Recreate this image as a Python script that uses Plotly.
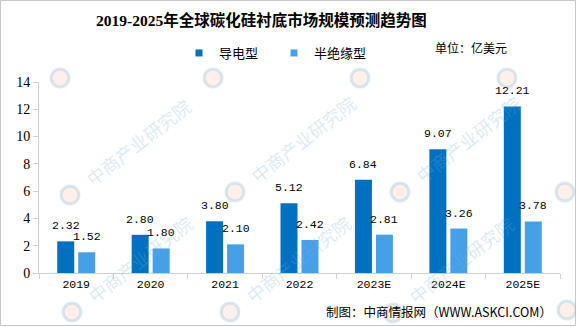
import plotly.graph_objects as go

# ---- data -------------------------------------------------------------
years = ["2019", "2020", "2021", "2022", "2023E", "2024E", "2025E"]
conductive = [2.32, 2.80, 3.80, 5.12, 6.84, 9.07, 12.21]      # 导电型
semi_insulating = [1.52, 1.80, 2.10, 2.42, 2.81, 3.26, 3.78]  # 半绝缘型
series_names = ["导电型", "半绝缘型"]
y_ticks = [0, 2, 4, 6, 8, 10, 12, 14]

# ---- styling ----------------------------------------------------------
W, H = 576, 327
M_L, M_R, M_T, M_B = 39, 16, 82, 54
PW, PH = W - M_L - M_R, H - M_T - M_B
DARK = "#0070C0"
LIGHT = "#45A0E8"
AXIS_GREY = "#D0D0D0"
SERIF = "Liberation Serif, Noto Sans CJK SC"
MONO = "Liberation Mono, DejaVu Sans Mono"
CJK = "Noto Sans CJK SC"


def px_x(x):
    """pixel column -> paper fraction"""
    return (x - M_L) / PW


def px_y(y):
    """pixel row -> paper fraction"""
    return (H - M_B - y) / PH


fig = go.Figure()
colors = [DARK, LIGHT]
for name, vals, col in zip(series_names, [conductive, semi_insulating], colors):
    fig.add_trace(go.Bar(
        x=years, y=vals, name=name, marker_color=col,
        marker_line_width=0, showlegend=False, hoverinfo="skip",
    ))
for name, col in zip(series_names, colors):
    # legend entry with a small square swatch
    fig.add_trace(go.Scatter(
        x=[years[0]], y=[None], mode="markers", name=name,
        marker=dict(symbol="square", size=7, color=col), hoverinfo="skip",
    ))

annotations = []
# value labels above the bars (x given as category index)
for vals, shift in [(conductive, -10.5), (semi_insulating, 10.5)]:
    for i, v in enumerate(vals):
        annotations.append(dict(
            x=i, y=v, xref="x", yref="y", text=f"{v:.2f}",
            showarrow=False, yanchor="bottom", xanchor="center",
            xshift=shift, yshift=7,
            font=dict(family=MONO, size=11.5, color="#000000"),
        ))

# title
annotations.append(dict(
    x=px_x(261), y=px_y(20), xref="paper", yref="paper",
    text="<b>2019-2025年全球碳化硅衬底市场规模预测趋势图</b>",
    showarrow=False, xanchor="center", yanchor="middle",
    font=dict(family=SERIF, size=15.5, color="#000000"),
))
# unit
annotations.append(dict(
    x=px_x(433), y=px_y(48), xref="paper", yref="paper",
    text="单位：亿美元", showarrow=False, xanchor="left", yanchor="middle",
    font=dict(family=CJK, size=12, color="#000000"),
))
# source
annotations.append(dict(
    x=px_x(554), y=px_y(311), xref="paper", yref="paper",
    text="制图：中商情报网（WWW.ASKCI.COM）", showarrow=False,
    xanchor="right", yanchor="middle",
    font=dict(family=CJK, size=12.5, color="#000000"),
))

# faint diagonal watermark
wm_logos = [(70, 195), (235, 192), (400, 192),
            (72, 312), (230, 312), (393, 313)]
wm_marks = [(60, 78), (213, 78), (360, 78), (507, 78), (565, 192), (567, 310)]
shapes = []
for lx, ly in wm_logos:
    annotations.append(dict(
        x=px_x(lx + 68), y=px_y(ly - 53), xref="paper", yref="paper",
        text="中商产业研究院", showarrow=False, textangle=-38,
        xanchor="center", yanchor="middle",
        font=dict(family=CJK, size=18, color="rgba(120,175,220,0.28)"),
    ))
for lx, ly in wm_logos + wm_marks:
    shapes.append(dict(
        type="circle", xref="paper", yref="paper",
        x0=px_x(lx - 9), x1=px_x(lx + 9), y0=px_y(ly + 9), y1=px_y(ly - 9),
        fillcolor="rgba(245,170,140,0.18)",
        line=dict(color="rgba(120,175,220,0.28)", width=3),
    ))

# outer frame
shapes.append(dict(
    type="rect", xref="paper", yref="paper",
    x0=px_x(0.5), x1=px_x(W - 0.5), y0=px_y(H - 1.5), y1=px_y(0.5),
    line=dict(color="#C8C8C8", width=1), fillcolor="rgba(0,0,0,0)",
    layer="below",
))

fig.update_layout(
    width=W, height=H,
    margin=dict(l=M_L, r=M_R, t=M_T, b=M_B, pad=0),
    paper_bgcolor="white", plot_bgcolor="white",
    barmode="group", bargap=0.436, bargroupgap=0.19,
    showlegend=True,
    legend=dict(
        orientation="h", x=px_x(179), y=px_y(53), xanchor="left",
        yanchor="middle", font=dict(family=CJK, size=13, color="#000000"),
        bgcolor="rgba(0,0,0,0)", entrywidth=50, entrywidthmode="pixels",
        itemclick=False, itemdoubleclick=False,
    ),
    annotations=annotations,
    shapes=shapes,
    xaxis=dict(
        type="category", categoryorder="array", categoryarray=years,
        range=[-0.5, len(years) - 0.5],
        showgrid=False, zeroline=False,
        showline=True, linecolor=AXIS_GREY, linewidth=1,
        ticks="outside", tickson="boundaries", ticklen=5,
        tickcolor=AXIS_GREY,
        tickfont=dict(family=MONO, size=11.5, color="#000000"),
        fixedrange=True,
    ),
    yaxis=dict(
        range=[0, 14], tickvals=y_ticks, showgrid=False, zeroline=False,
        showline=True, linecolor=AXIS_GREY, linewidth=1,
        ticks="outside", ticklen=5, tickcolor=AXIS_GREY,
        tickfont=dict(family=SERIF, size=14, color="#000000"),
        fixedrange=True,
    ),
)

fig.write_html("out.html", config={"displayModeBar": False})
